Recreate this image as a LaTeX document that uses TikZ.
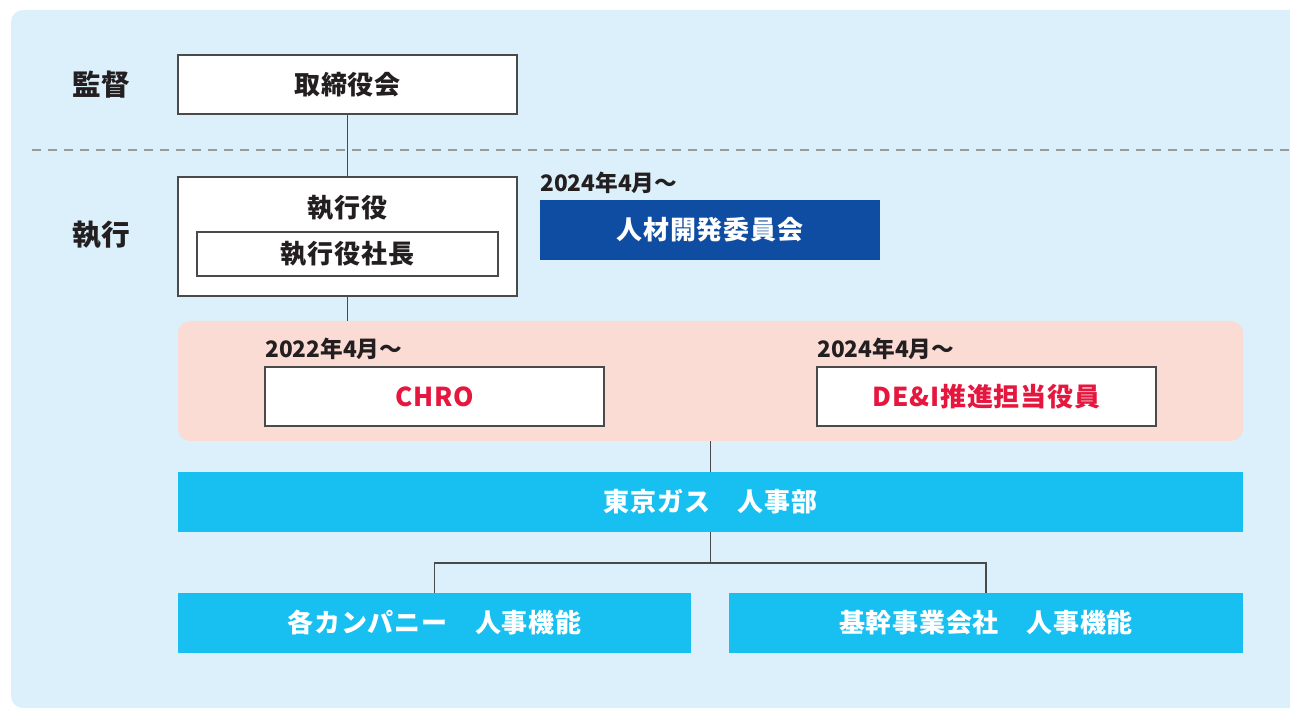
\documentclass[tikz,border=0pt]{standalone}
\usepackage{fontspec}
\setmainfont{Noto Sans CJK JP}
\definecolor{bgblue}{HTML}{DBF0FB}
\definecolor{pinkbg}{HTML}{FBDCD4}
\definecolor{navy}{HTML}{0F4DA2}
\definecolor{cyanbox}{HTML}{17C0F0}
\definecolor{txt}{HTML}{231F20}
\definecolor{redtxt}{HTML}{E5173F}
\definecolor{edge}{HTML}{4A4A4A}
\definecolor{dashgray}{HTML}{9A9A9A}
\tikzset{
  px/.style={x=0.75pt,y=-0.75pt},
  boxfont/.style={font=\fontsize{19.5}{21}\selectfont\bfseries\addfontfeature{LetterSpace=3}},
  wbox/.style={draw=edge,line width=0.8pt,fill=white,inner sep=0pt,boxfont,text=txt},
  fbox/.style={inner sep=0pt,boxfont,text=white},
  sidelabel/.style={inner sep=0pt,font=\fontsize{21.5}{23}\selectfont\bfseries,text=txt},
  datelabel/.style={inner sep=0pt,anchor=west,font=\fontsize{17}{19}\selectfont\bfseries,text=txt},
  conn/.style={draw=edge,line width=0.8pt},
}
\begin{document}
\begin{tikzpicture}[px]
\useasboundingbox (0,0) rectangle (1290,709);
\clip (0,0) rectangle (1290,709);
\fill[bgblue,rounded corners=9pt] (11,10) rectangle (1320,708);
% side labels
\node[sidelabel] (kantoku) at (101,85) {監督};
\node[sidelabel] (shikko) at (101,235) {執行};
% dashed divider
\coordinate (dl) at (32,150);
\coordinate (dr) at (1290,150);
\draw[dashgray,line width=1.1pt,dash pattern=on 7pt off 5pt] (dl) -- (dr);
% boxes
\node[wbox,minimum width=254.25pt,minimum height=44.25pt] (tori) at (347.5,84.5) {取締役会};
\node[wbox,minimum width=254.25pt,minimum height=89.25pt] (yaku) at (347.5,236.5) {};
\node[inner sep=0pt,boxfont,text=txt] (yakuT) at (347.5,208) {執行役};
\node[wbox,minimum width=225.75pt,minimum height=33pt] (shacho) at (347.5,254) {執行役社長};
\node[datelabel] (d1) at (540,183) {2024年4月～};
\node[fbox,fill=navy,minimum width=255pt,minimum height=45pt] (jinzai) at (710,230) {人材開発委員会};
% pink panel
\node[fill=pinkbg,rounded corners=9pt,inner sep=0pt,minimum width=798.75pt,minimum height=90pt] (pink) at (710.5,381) {};
\node[datelabel] (d2) at (265,349) {2022年4月～};
\node[datelabel] (d3) at (817,349) {2024年4月～};
\node[wbox,text=redtxt,minimum width=254.25pt,minimum height=44.25pt] (chro) at (434.5,396.5) {CHRO};
\node[wbox,text=redtxt,minimum width=254.25pt,minimum height=44.25pt] (dei) at (986.5,396.5) {DE\&I推進担当役員};
% cyan boxes
\node[fbox,fill=cyanbox,minimum width=798.75pt,minimum height=45pt] (tokyo) at (710.5,502) {東京ガス　人事部};
\node[fbox,fill=cyanbox,minimum width=384.75pt,minimum height=45pt] (kaku) at (434.5,623) {各カンパニー　人事機能};
\node[fbox,fill=cyanbox,minimum width=385.5pt,minimum height=45pt] (kikan) at (986,623) {基幹事業会社　人事機能};
% connectors
\draw[conn] (tori.south) -- (yaku.north);
\draw[conn] (yaku.south) -- (yaku.south |- pink.north);
\draw[conn] (pink.south) -- (tokyo.north);
\coordinate (j) at (710.5,563);
\draw[conn] (tokyo.south) -- (j);
\draw[conn] (kaku.north) |- (j) -| (kikan.north);
\end{tikzpicture}
\end{document}
